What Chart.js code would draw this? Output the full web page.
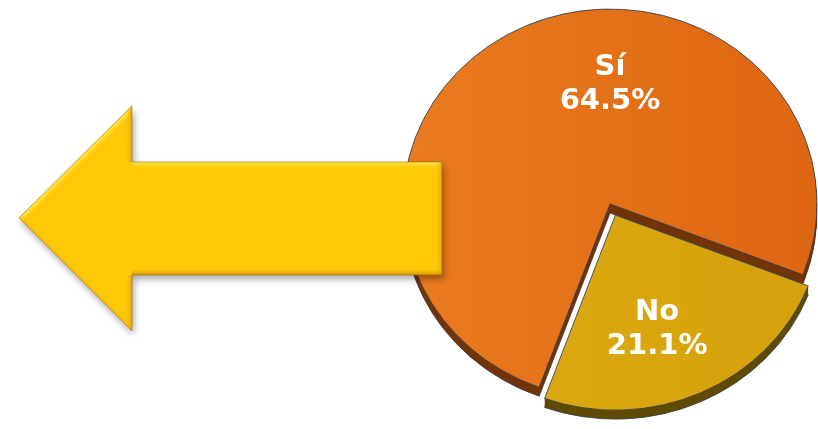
<!DOCTYPE html>
<html>
<head>
<meta charset="utf-8">
<script src="https://cdn.jsdelivr.net/npm/chart.js@4.4.0/dist/chart.umd.min.js"></script>
<style>
  html, body { margin: 0; padding: 0; background: #fff; }
</style>
</head>
<body>
<canvas id="pieChart" width="818" height="429"></canvas>
<script>
const categories = ['Sí', 'No'];
const percents = [64.5, 21.1];

// look of the fake 3D pie
const SQUASH = 0.942;     // vertical squeeze -> ellipse
const DEPTH = 9;          // thickness of the side
const SIDE = ['#733507', '#5F4B03'];
const FACE = [['#EA7B1E', '#DD6612'], ['#DCAC12', '#D6A10B']];
const LABEL_DIR = [-90, 71];   // degrees, canvas angles
const LABEL_R = [0.615, 0.62];

function sectorPath(c, x, y, r, a0, a1) {
  c.beginPath();
  c.moveTo(x, y);
  c.arc(x, y, r, a0, a1);
  c.closePath();
}

// chart.js moves an exploded arc by offset / 4 along its mid angle
function shiftOf(arc) {
  const off = (arc.options.offset || 0) / 4;
  const mid = (arc.startAngle + arc.endAngle) / 2;
  return [Math.cos(mid) * off, Math.sin(mid) * off];
}

function drawArrow(c) {
  const pts = [[19, 218], [132, 106], [132, 162], [442, 162], [442, 275], [132, 275], [132, 331]];
  const path = () => {
    c.beginPath();
    pts.forEach(([x, y], i) => i ? c.lineTo(x, y) : c.moveTo(x, y));
    c.closePath();
  };
  c.save();
  path();
  c.shadowColor = 'rgba(0,0,0,0.35)';
  c.shadowBlur = 7;
  c.shadowOffsetX = 2;
  c.shadowOffsetY = 4;
  c.fillStyle = '#FFC908';
  c.fill();
  c.shadowColor = 'transparent';
  path();
  c.clip();
  const L = [-0.55, -0.83];
  const w = 7;
  for (let i = 0; i < pts.length; i++) {
    const [x0, y0] = pts[i];
    const [x1, y1] = pts[(i + 1) % pts.length];
    const len = Math.hypot(x1 - x0, y1 - y0);
    const nx = (y1 - y0) / len, ny = -(x1 - x0) / len;
    const shade = nx * L[0] + ny * L[1];
    const col = shade > 0
      ? 'rgba(255,240,100,' + Math.min(1, shade).toFixed(2) + ')'
      : 'rgba(190,125,0,' + Math.min(1, -shade * 0.9).toFixed(2) + ')';
    const mx = (x0 + x1) / 2, my = (y0 + y1) / 2;
    const g = c.createLinearGradient(mx, my, mx - nx * w, my - ny * w);
    g.addColorStop(0, col);
    g.addColorStop(1, 'rgba(255,201,10,0)');
    c.fillStyle = g;
    c.beginPath();
    c.moveTo(x0, y0);
    c.lineTo(x1, y1);
    c.lineTo(x1 - nx * w, y1 - ny * w);
    c.lineTo(x0 - nx * w, y0 - ny * w);
    c.closePath();
    c.fill();
  }
  c.restore();
  c.save();
  path();
  c.strokeStyle = 'rgba(165,115,0,0.6)';
  c.lineWidth = 1;
  c.stroke();
  c.restore();
}

const pie3d = {
  id: 'pie3d',
  beforeDatasetsDraw(chart) {
    const c = chart.ctx;
    const arcs = chart.getDatasetMeta(0).data;
    const cx = arcs[0].x, cy = arcs[0].y;
    c.save();
    c.translate(cx, cy);
    c.scale(1, SQUASH);
    c.translate(-cx, -cy);
    arcs.forEach((arc, i) => {
      const [tx, ty] = shiftOf(arc);
      c.fillStyle = SIDE[i];
      for (let d = DEPTH; d >= 1; d--) {
        sectorPath(c, arc.x + tx, arc.y + ty + d / SQUASH, arc.outerRadius, arc.startAngle, arc.endAngle);
        c.fill();
        if (d === DEPTH) {
          c.strokeStyle = 'rgba(50,60,85,0.8)';
          c.lineWidth = 1;
          c.stroke();
        }
      }
    });
  },
  afterDatasetsDraw(chart) {
    const c = chart.ctx;
    c.restore();
    drawArrow(c);
    const arcs = chart.getDatasetMeta(0).data;
    const cy = arcs[0].y;
    c.save();
    c.fillStyle = '#FFFFFF';
    c.font = 'bold 29px "DejaVu Sans", Verdana, sans-serif';
    c.textAlign = 'center';
    c.textBaseline = 'middle';
    arcs.forEach((arc, i) => {
      const [tx, ty] = shiftOf(arc);
      const a = LABEL_DIR[i] * Math.PI / 180;
      const r = arc.outerRadius * LABEL_R[i];
      const px = arc.x + tx + Math.cos(a) * r;
      const py = cy + (arc.y + ty + Math.sin(a) * r - cy) * SQUASH;
      c.fillText(categories[i], px, py - 17);
      c.fillText(percents[i].toFixed(1) + '%', px, py + 17);
    });
    c.restore();
  }
};

const ctx = document.getElementById('pieChart').getContext('2d');
new Chart(ctx, {
  type: 'pie',
  data: {
    labels: categories,
    datasets: [{
      data: percents,
      backgroundColor: function(context) {
        const chart = context.chart;
        const area = chart.chartArea;
        const pair = FACE[context.dataIndex];
        if (!area) return pair[0];
        const g = chart.ctx.createLinearGradient(area.left, 0, area.right, 0);
        g.addColorStop(0, pair[0]);
        g.addColorStop(1, pair[1]);
        return g;
      },
      borderColor: 'rgba(50,60,85,0.85)',
      borderWidth: 1,
      offset: [0, 52],
      hoverOffset: 0,
      clip: false
    }]
  },
  options: {
    responsive: false,
    animation: false,
    events: [],
    rotation: 200,
    radius: 207,
    layout: { padding: { left: 402, right: 0, top: 0, bottom: 21 } },
    plugins: {
      legend: { display: false },
      tooltip: { enabled: false }
    }
  },
  plugins: [pie3d]
});
</script>
</body>
</html>
